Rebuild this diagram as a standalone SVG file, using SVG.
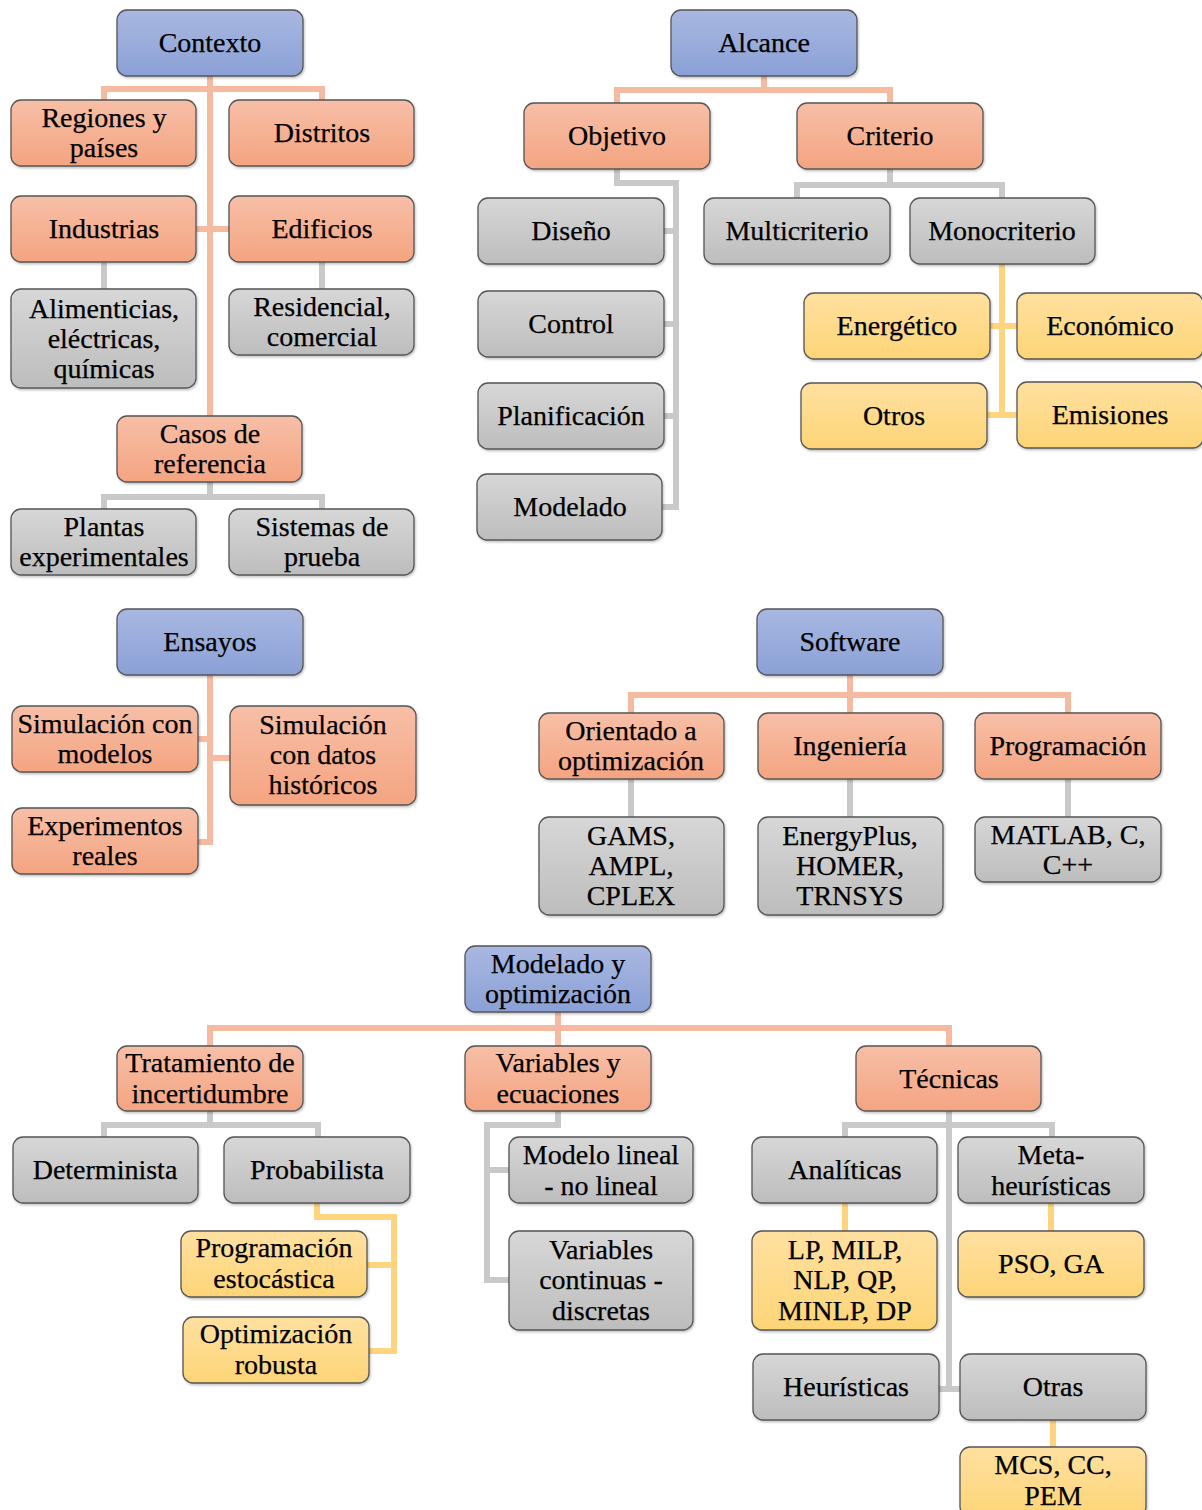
<svg xmlns="http://www.w3.org/2000/svg" width="1202" height="1510" viewBox="0 0 1202 1510">
<defs>
<linearGradient id="gb" x1="0" y1="0" x2="0" y2="1"><stop offset="0" stop-color="#A9B8E1"/><stop offset="1" stop-color="#8AA0D6"/></linearGradient>
<linearGradient id="go" x1="0" y1="0" x2="0" y2="1"><stop offset="0" stop-color="#F7BFA7"/><stop offset="1" stop-color="#F4A481"/></linearGradient>
<linearGradient id="gg" x1="0" y1="0" x2="0" y2="1"><stop offset="0" stop-color="#D7D7D7"/><stop offset="1" stop-color="#BDBDBD"/></linearGradient>
<linearGradient id="gy" x1="0" y1="0" x2="0" y2="1"><stop offset="0" stop-color="#FFE0A0"/><stop offset="1" stop-color="#FDD577"/></linearGradient>
<filter id="sh" x="-5%" y="-5%" width="112%" height="120%"><feDropShadow dx="1" dy="1.5" stdDeviation="1.2" flood-color="#000" flood-opacity="0.25"/></filter>
</defs>
<style>
rect.n{stroke:#555;stroke-width:1.3;filter:url(#sh)}
.b{fill:url(#gb)}
.o{fill:url(#go)}
.g{fill:url(#gg)}
.y{fill:url(#gy)}
text{font-size:28px;fill:#000;stroke:#000;stroke-width:0.25;text-anchor:middle}
.c path{fill:none;stroke-width:6;stroke-linejoin:miter}
.co{stroke:#F6BAA1}
.cg{stroke:#C9C9C9}
.cy{stroke:#FFD47E}
</style>
<rect x="0" y="0" width="1202" height="1510" fill="#fff"/>
<g class="c" id="connectors">
<path class="co" d="M210 76V416M104 100V89H322V100M196 229H229"/>
<path class="cg" d="M104 262V289M322 262V289M210 482V497M104 509V497H322V509"/>
<path class="co" d="M764 76V90M617 103V90H890V103"/>
<path class="cg" d="M617 169V183H676V507H662M664 231H676M664 324H676M664 416H676"/>
<path class="cg" d="M890 169V185M797 198V185H1002V198"/>
<path class="cy" d="M1002 264V415M990 326H1017M987 415H1017"/>
<path class="co" d="M210 675V842H198M198 739H210M210 758H230"/>
<path class="co" d="M850 675V713M631 713V695H1068V713"/>
<path class="cg" d="M631 779V817M850 779V817M1068 779V817"/>
<path class="co" d="M558 1012V1046M210 1046V1028H949V1046"/>
<path class="cg" d="M210 1111V1125M104 1137V1125H318V1137"/>
<path class="cy" d="M317 1203V1217H394V1351H369M367 1265H394"/>
<path class="cg" d="M558 1111V1125H487V1280H509M487 1170H509"/>
<path class="cg" d="M949 1111V1389H939M949 1389H960M845 1137V1125H1052V1137"/>
<path class="cy" d="M845 1203V1231M1051 1203V1231M1053 1420V1447"/>
</g>
<g id="nodes" font-family="Liberation Serif, DejaVu Serif, Times New Roman, serif">
<g id="contexto"><rect class="n b" x="117" y="10" width="186" height="66" rx="10"/><text x="210" y="52">Contexto</text></g>
<g id="regiones"><rect class="n o" x="11" y="100" width="185" height="66" rx="10"/><text x="104" y="127">Regiones y</text><text x="104" y="157">países</text></g>
<g id="distritos"><rect class="n o" x="229" y="100" width="185" height="66" rx="10"/><text x="322" y="142">Distritos</text></g>
<g id="industrias"><rect class="n o" x="11" y="196" width="185" height="66" rx="10"/><text x="104" y="238">Industrias</text></g>
<g id="edificios"><rect class="n o" x="229" y="196" width="185" height="66" rx="10"/><text x="322" y="238">Edificios</text></g>
<g id="alimenticias"><rect class="n g" x="11" y="289" width="185" height="99" rx="10"/><text x="104" y="318">Alimenticias,</text><text x="104" y="348">eléctricas,</text><text x="104" y="378">químicas</text></g>
<g id="residencial"><rect class="n g" x="229" y="289" width="185" height="66" rx="10"/><text x="322" y="316">Residencial,</text><text x="322" y="346">comercial</text></g>
<g id="casos"><rect class="n o" x="117" y="416" width="185" height="66" rx="10"/><text x="210" y="443">Casos de</text><text x="210" y="473">referencia</text></g>
<g id="plantas"><rect class="n g" x="11" y="509" width="185" height="66" rx="10"/><text x="104" y="536">Plantas</text><text x="104" y="566">experimentales</text></g>
<g id="sistemas"><rect class="n g" x="229" y="509" width="185" height="66" rx="10"/><text x="322" y="536">Sistemas de</text><text x="322" y="566">prueba</text></g>

<g id="alcance"><rect class="n b" x="671" y="10" width="186" height="66" rx="10"/><text x="764" y="52">Alcance</text></g>
<g id="objetivo"><rect class="n o" x="524" y="103" width="186" height="66" rx="10"/><text x="617" y="145">Objetivo</text></g>
<g id="criterio"><rect class="n o" x="797" y="103" width="186" height="66" rx="10"/><text x="890" y="145">Criterio</text></g>
<g id="diseno"><rect class="n g" x="478" y="198" width="186" height="66" rx="10"/><text x="571" y="240">Diseño</text></g>
<g id="control"><rect class="n g" x="478" y="291" width="186" height="66" rx="10"/><text x="571" y="333">Control</text></g>
<g id="planificacion"><rect class="n g" x="478" y="383" width="186" height="66" rx="10"/><text x="571" y="425">Planificación</text></g>
<g id="modelado"><rect class="n g" x="477" y="474" width="185" height="66" rx="10"/><text x="570" y="516">Modelado</text></g>
<g id="multicriterio"><rect class="n g" x="704" y="198" width="186" height="66" rx="10"/><text x="797" y="240">Multicriterio</text></g>
<g id="monocriterio"><rect class="n g" x="910" y="198" width="185" height="66" rx="10"/><text x="1002" y="240">Monocriterio</text></g>
<g id="energetico"><rect class="n y" x="804" y="293" width="186" height="66" rx="10"/><text x="897" y="335">Energético</text></g>
<g id="economico"><rect class="n y" x="1017" y="293" width="186" height="66" rx="10"/><text x="1110" y="335">Económico</text></g>
<g id="otros"><rect class="n y" x="801" y="383" width="186" height="66" rx="10"/><text x="894" y="425">Otros</text></g>
<g id="emisiones"><rect class="n y" x="1017" y="382" width="186" height="66" rx="10"/><text x="1110" y="424">Emisiones</text></g>

<g id="ensayos"><rect class="n b" x="117" y="609" width="186" height="66" rx="10"/><text x="210" y="651">Ensayos</text></g>
<g id="simmodelos"><rect class="n o" x="12" y="706" width="186" height="66" rx="10"/><text x="105" y="733">Simulación con</text><text x="105" y="763">modelos</text></g>
<g id="simdatos"><rect class="n o" x="230" y="706" width="186" height="99" rx="10"/><text x="323" y="734">Simulación</text><text x="323" y="764">con datos</text><text x="323" y="794">históricos</text></g>
<g id="experimentos"><rect class="n o" x="12" y="808" width="186" height="66" rx="10"/><text x="105" y="835">Experimentos</text><text x="105" y="865">reales</text></g>

<g id="software"><rect class="n b" x="757" y="609" width="186" height="66" rx="10"/><text x="850" y="651">Software</text></g>
<g id="orientado"><rect class="n o" x="539" y="713" width="185" height="66" rx="10"/><text x="631" y="740">Orientado a</text><text x="631" y="770">optimización</text></g>
<g id="ingenieria"><rect class="n o" x="758" y="713" width="185" height="66" rx="10"/><text x="850" y="755">Ingeniería</text></g>
<g id="programacion"><rect class="n o" x="975" y="713" width="186" height="66" rx="10"/><text x="1068" y="755">Programación</text></g>
<g id="gams"><rect class="n g" x="539" y="817" width="185" height="98" rx="10"/><text x="631" y="845">GAMS,</text><text x="631" y="875">AMPL,</text><text x="631" y="905">CPLEX</text></g>
<g id="energyplus"><rect class="n g" x="758" y="817" width="185" height="98" rx="10"/><text x="850" y="845">EnergyPlus,</text><text x="850" y="875">HOMER,</text><text x="850" y="905">TRNSYS</text></g>
<g id="matlab"><rect class="n g" x="975" y="817" width="186" height="65" rx="10"/><text x="1068" y="844">MATLAB, C,</text><text x="1068" y="874">C++</text></g>

<g id="modopt"><rect class="n b" x="465" y="946" width="186" height="66" rx="10"/><text x="558" y="973">Modelado y</text><text x="558" y="1003">optimización</text></g>
<g id="tratamiento"><rect class="n o" x="117" y="1046" width="186" height="65" rx="10"/><text x="210" y="1072">Tratamiento de</text><text x="210" y="1103">incertidumbre</text></g>
<g id="variables"><rect class="n o" x="465" y="1046" width="186" height="65" rx="10"/><text x="558" y="1072">Variables y</text><text x="558" y="1103">ecuaciones</text></g>
<g id="tecnicas"><rect class="n o" x="856" y="1046" width="185" height="65" rx="10"/><text x="949" y="1088">Técnicas</text></g>
<g id="determinista"><rect class="n g" x="13" y="1137" width="185" height="66" rx="10"/><text x="105" y="1179">Determinista</text></g>
<g id="probabilista"><rect class="n g" x="224" y="1137" width="186" height="66" rx="10"/><text x="317" y="1179">Probabilista</text></g>
<g id="estocastica"><rect class="n y" x="181" y="1231" width="186" height="66" rx="10"/><text x="274" y="1257">Programación</text><text x="274" y="1288">estocástica</text></g>
<g id="robusta"><rect class="n y" x="183" y="1317" width="186" height="66" rx="10"/><text x="276" y="1343">Optimización</text><text x="276" y="1374">robusta</text></g>
<g id="modelolineal"><rect class="n g" x="509" y="1137" width="184" height="66" rx="10"/><text x="601" y="1164">Modelo lineal</text><text x="601" y="1195">- no lineal</text></g>
<g id="varcont"><rect class="n g" x="509" y="1231" width="184" height="99" rx="10"/><text x="601" y="1259">Variables</text><text x="601" y="1289">continuas -</text><text x="601" y="1320">discretas</text></g>
<g id="analiticas"><rect class="n g" x="752" y="1137" width="185" height="66" rx="10"/><text x="845" y="1179">Analíticas</text></g>
<g id="metaheur"><rect class="n g" x="958" y="1137" width="186" height="66" rx="10"/><text x="1051" y="1164">Meta-</text><text x="1051" y="1195">heurísticas</text></g>
<g id="lpmilp"><rect class="n y" x="752" y="1231" width="185" height="99" rx="10"/><text x="845" y="1259">LP, MILP,</text><text x="845" y="1289">NLP, QP,</text><text x="845" y="1320">MINLP, DP</text></g>
<g id="psoga"><rect class="n y" x="958" y="1231" width="186" height="66" rx="10"/><text x="1051" y="1273">PSO, GA</text></g>
<g id="heuristicas"><rect class="n g" x="753" y="1354" width="186" height="66" rx="10"/><text x="846" y="1396">Heurísticas</text></g>
<g id="otras"><rect class="n g" x="960" y="1354" width="186" height="66" rx="10"/><text x="1053" y="1396">Otras</text></g>
<g id="mcs"><rect class="n y" x="960" y="1447" width="186" height="70" rx="10"/><text x="1053" y="1474">MCS, CC,</text><text x="1053" y="1505">PEM</text></g>
</g>
</svg>
